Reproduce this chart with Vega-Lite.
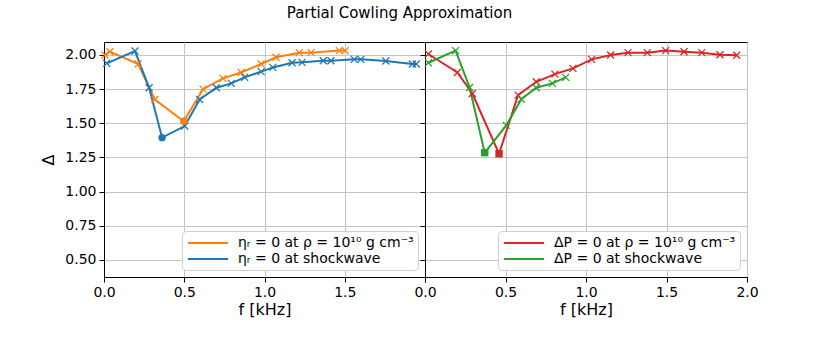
{
  "$schema": "https://vega.github.io/schema/vega-lite/v6.json",
  "padding": {"left": 40, "top": 5, "right": 5, "bottom": 5},
  "title": {"text": "Partial Cowling Approximation", "font": "DejaVu Sans", "fontSize": 15, "fontWeight": "normal", "color": "#000", "offset": 21, "anchor": "middle"},
  "config": {
    "font": "DejaVu Sans",
    "view": {"stroke": "#000", "strokeWidth": 1},
    "axis": {"labelFont": "DejaVu Sans", "labelFontSize": 14, "labelColor": "#000", "titleFont": "DejaVu Sans", "titleFontSize": 16, "titleFontWeight": "normal", "titleColor": "#000", "domainColor": "#000", "tickColor": "#000", "tickSize": 5, "gridColor": "#c4c4c4", "gridWidth": 1, "labelFlush": false, "labelPadding": 3},
    "legend": {"labelFont": "DejaVu Sans", "labelFontSize": 14, "labelColor": "#000", "labelLimit": 0}
  },
  "data": {"values": [
    {"panel": "L", "series": "ηᵣ = 0 at ρ = 10¹⁰ g cm⁻³", "f": 0.006, "delta": 2.0, "kind": "x"},
    {"panel": "L", "series": "ηᵣ = 0 at ρ = 10¹⁰ g cm⁻³", "f": 0.037, "delta": 2.024, "kind": "x"},
    {"panel": "L", "series": "ηᵣ = 0 at ρ = 10¹⁰ g cm⁻³", "f": 0.213, "delta": 1.934, "kind": "x"},
    {"panel": "L", "series": "ηᵣ = 0 at ρ = 10¹⁰ g cm⁻³", "f": 0.317, "delta": 1.674, "kind": "x"},
    {"panel": "L", "series": "ηᵣ = 0 at ρ = 10¹⁰ g cm⁻³", "f": 0.497, "delta": 1.515, "kind": "min"},
    {"panel": "L", "series": "ηᵣ = 0 at ρ = 10¹⁰ g cm⁻³", "f": 0.617, "delta": 1.75, "kind": "x"},
    {"panel": "L", "series": "ηᵣ = 0 at ρ = 10¹⁰ g cm⁻³", "f": 0.741, "delta": 1.829, "kind": "x"},
    {"panel": "L", "series": "ηᵣ = 0 at ρ = 10¹⁰ g cm⁻³", "f": 0.855, "delta": 1.872, "kind": "x"},
    {"panel": "L", "series": "ηᵣ = 0 at ρ = 10¹⁰ g cm⁻³", "f": 0.979, "delta": 1.934, "kind": "x"},
    {"panel": "L", "series": "ηᵣ = 0 at ρ = 10¹⁰ g cm⁻³", "f": 1.072, "delta": 1.983, "kind": "x"},
    {"panel": "L", "series": "ηᵣ = 0 at ρ = 10¹⁰ g cm⁻³", "f": 1.217, "delta": 2.017, "kind": "x"},
    {"panel": "L", "series": "ηᵣ = 0 at ρ = 10¹⁰ g cm⁻³", "f": 1.29, "delta": 2.017, "kind": "x"},
    {"panel": "L", "series": "ηᵣ = 0 at ρ = 10¹⁰ g cm⁻³", "f": 1.466, "delta": 2.032, "kind": "x"},
    {"panel": "L", "series": "ηᵣ = 0 at ρ = 10¹⁰ g cm⁻³", "f": 1.503, "delta": 2.032, "kind": "x"},
    {"panel": "L", "series": "ηᵣ = 0 at shockwave", "f": 0.017, "delta": 1.939, "kind": "x"},
    {"panel": "L", "series": "ηᵣ = 0 at shockwave", "f": 0.193, "delta": 2.029, "kind": "x"},
    {"panel": "L", "series": "ηᵣ = 0 at shockwave", "f": 0.281, "delta": 1.76, "kind": "x"},
    {"panel": "L", "series": "ηᵣ = 0 at shockwave", "f": 0.362, "delta": 1.395, "kind": "min"},
    {"panel": "L", "series": "ηᵣ = 0 at shockwave", "f": 0.503, "delta": 1.48, "kind": "x"},
    {"panel": "L", "series": "ηᵣ = 0 at shockwave", "f": 0.596, "delta": 1.674, "kind": "x"},
    {"panel": "L", "series": "ηᵣ = 0 at shockwave", "f": 0.7, "delta": 1.76, "kind": "x"},
    {"panel": "L", "series": "ηᵣ = 0 at shockwave", "f": 0.793, "delta": 1.792, "kind": "x"},
    {"panel": "L", "series": "ηᵣ = 0 at shockwave", "f": 0.876, "delta": 1.836, "kind": "x"},
    {"panel": "L", "series": "ηᵣ = 0 at shockwave", "f": 0.979, "delta": 1.878, "kind": "x"},
    {"panel": "L", "series": "ηᵣ = 0 at shockwave", "f": 1.052, "delta": 1.909, "kind": "x"},
    {"panel": "L", "series": "ηᵣ = 0 at shockwave", "f": 1.172, "delta": 1.943, "kind": "x"},
    {"panel": "L", "series": "ηᵣ = 0 at shockwave", "f": 1.234, "delta": 1.946, "kind": "x"},
    {"panel": "L", "series": "ηᵣ = 0 at shockwave", "f": 1.366, "delta": 1.958, "kind": "x"},
    {"panel": "L", "series": "ηᵣ = 0 at shockwave", "f": 1.414, "delta": 1.958, "kind": "x"},
    {"panel": "L", "series": "ηᵣ = 0 at shockwave", "f": 1.559, "delta": 1.968, "kind": "x"},
    {"panel": "L", "series": "ηᵣ = 0 at shockwave", "f": 1.6, "delta": 1.968, "kind": "x"},
    {"panel": "L", "series": "ηᵣ = 0 at shockwave", "f": 1.756, "delta": 1.956, "kind": "x"},
    {"panel": "L", "series": "ηᵣ = 0 at shockwave", "f": 1.921, "delta": 1.934, "kind": "x"},
    {"panel": "L", "series": "ηᵣ = 0 at shockwave", "f": 1.946, "delta": 1.934, "kind": "x"},
    {"panel": "R", "series": "ΔP = 0 at ρ = 10¹⁰ g cm⁻³", "f": 0.021, "delta": 2.007, "kind": "x"},
    {"panel": "R", "series": "ΔP = 0 at ρ = 10¹⁰ g cm⁻³", "f": 0.201, "delta": 1.872, "kind": "x"},
    {"panel": "R", "series": "ΔP = 0 at ρ = 10¹⁰ g cm⁻³", "f": 0.294, "delta": 1.718, "kind": "x"},
    {"panel": "R", "series": "ΔP = 0 at ρ = 10¹⁰ g cm⁻³", "f": 0.46, "delta": 1.277, "kind": "min"},
    {"panel": "R", "series": "ΔP = 0 at ρ = 10¹⁰ g cm⁻³", "f": 0.578, "delta": 1.706, "kind": "x"},
    {"panel": "R", "series": "ΔP = 0 at ρ = 10¹⁰ g cm⁻³", "f": 0.691, "delta": 1.804, "kind": "x"},
    {"panel": "R", "series": "ΔP = 0 at ρ = 10¹⁰ g cm⁻³", "f": 0.807, "delta": 1.86, "kind": "x"},
    {"panel": "R", "series": "ΔP = 0 at ρ = 10¹⁰ g cm⁻³", "f": 0.919, "delta": 1.902, "kind": "x"},
    {"panel": "R", "series": "ΔP = 0 at ρ = 10¹⁰ g cm⁻³", "f": 1.035, "delta": 1.968, "kind": "x"},
    {"panel": "R", "series": "ΔP = 0 at ρ = 10¹⁰ g cm⁻³", "f": 1.153, "delta": 2.0, "kind": "x"},
    {"panel": "R", "series": "ΔP = 0 at ρ = 10¹⁰ g cm⁻³", "f": 1.261, "delta": 2.017, "kind": "x"},
    {"panel": "R", "series": "ΔP = 0 at ρ = 10¹⁰ g cm⁻³", "f": 1.381, "delta": 2.017, "kind": "x"},
    {"panel": "R", "series": "ΔP = 0 at ρ = 10¹⁰ g cm⁻³", "f": 1.495, "delta": 2.032, "kind": "x"},
    {"panel": "R", "series": "ΔP = 0 at ρ = 10¹⁰ g cm⁻³", "f": 1.609, "delta": 2.024, "kind": "x"},
    {"panel": "R", "series": "ΔP = 0 at ρ = 10¹⁰ g cm⁻³", "f": 1.719, "delta": 2.017, "kind": "x"},
    {"panel": "R", "series": "ΔP = 0 at ρ = 10¹⁰ g cm⁻³", "f": 1.832, "delta": 2.002, "kind": "x"},
    {"panel": "R", "series": "ΔP = 0 at ρ = 10¹⁰ g cm⁻³", "f": 1.936, "delta": 1.998, "kind": "x"},
    {"panel": "R", "series": "ΔP = 0 at shockwave", "f": 0.021, "delta": 1.943, "kind": "x"},
    {"panel": "R", "series": "ΔP = 0 at shockwave", "f": 0.19, "delta": 2.032, "kind": "x"},
    {"panel": "R", "series": "ΔP = 0 at shockwave", "f": 0.277, "delta": 1.762, "kind": "x"},
    {"panel": "R", "series": "ΔP = 0 at shockwave", "f": 0.371, "delta": 1.285, "kind": "min"},
    {"panel": "R", "series": "ΔP = 0 at shockwave", "f": 0.505, "delta": 1.485, "kind": "x"},
    {"panel": "R", "series": "ΔP = 0 at shockwave", "f": 0.598, "delta": 1.676, "kind": "x"},
    {"panel": "R", "series": "ΔP = 0 at shockwave", "f": 0.691, "delta": 1.76, "kind": "x"},
    {"panel": "R", "series": "ΔP = 0 at shockwave", "f": 0.791, "delta": 1.792, "kind": "x"},
    {"panel": "R", "series": "ΔP = 0 at shockwave", "f": 0.874, "delta": 1.836, "kind": "x"}
  ]},
  "spacing": 0,
  "bounds": "flush",
  "resolve": {"scale": {"color": "independent", "shape": "independent"}, "legend": {"color": "independent"}},
  "hconcat": [
    {
      "width": 321, "height": 235,
      "transform": [{"filter": "datum.panel === 'L'"}],
      "encoding": {
        "x": {"field": "f", "type": "quantitative", "scale": {"domain": [0, 2], "nice": false}, "axis": {"values": [0, 0.5, 1, 1.5, 2], "labelExpr": "datum.value >= 2 ? '' : format(datum.value, '.1f')", "title": "f [kHz]", "titlePadding": 2}},
        "y": {"field": "delta", "type": "quantitative", "scale": {"domain": [0.375, 2.095], "nice": false, "zero": false}, "axis": {"values": [0.5, 0.75, 1.0, 1.25, 1.5, 1.75, 2.0], "format": ".2f", "title": "Δ", "titlePadding": 8}},
        "color": {"field": "series", "type": "nominal", "scale": {"domain": ["ηᵣ = 0 at ρ = 10¹⁰ g cm⁻³", "ηᵣ = 0 at shockwave"], "range": ["#ff7f0e", "#1f77b4"]},
          "legend": {"title": null, "orient": "bottom-right", "offset": 7, "symbolType": "M-3,0L3,0", "symbolSize": 180, "symbolStrokeWidth": 2, "symbolOffset": 14, "fillColor": "#ffffff", "strokeColor": "#d0d0d0", "cornerRadius": 4, "padding": 4, "rowPadding": 1, "labelOffset": 22}}
      },
      "layer": [
        {"mark": {"type": "line", "strokeWidth": 2}},
        {"transform": [{"filter": "datum.kind === 'x'"}], "mark": {"type": "point", "shape": "M-1,-1L1,1M-1,1L1,-1", "filled": false, "size": 49, "strokeWidth": 1.3, "opacity": 1}},
        {"transform": [{"filter": "datum.kind === 'min'"}], "mark": {"type": "point", "shape": "circle", "filled": true, "size": 55, "opacity": 1}}
      ]
    },
    {
      "width": 322, "height": 235,
      "transform": [{"filter": "datum.panel === 'R'"}],
      "encoding": {
        "x": {"field": "f", "type": "quantitative", "scale": {"domain": [0, 2], "nice": false}, "axis": {"values": [0, 0.5, 1, 1.5, 2], "format": ".1f", "title": "f [kHz]", "titlePadding": 2}},
        "y": {"field": "delta", "type": "quantitative", "scale": {"domain": [0.375, 2.095], "nice": false, "zero": false}, "axis": {"values": [0.5, 0.75, 1.0, 1.25, 1.5, 1.75, 2.0], "labels": false, "title": null}},
        "color": {"field": "series", "type": "nominal", "scale": {"domain": ["ΔP = 0 at ρ = 10¹⁰ g cm⁻³", "ΔP = 0 at shockwave"], "range": ["#d62728", "#2ca02c"]},
          "legend": {"title": null, "orient": "bottom-right", "offset": 7, "symbolType": "M-3,0L3,0", "symbolSize": 180, "symbolStrokeWidth": 2, "symbolOffset": 14, "fillColor": "#ffffff", "strokeColor": "#d0d0d0", "cornerRadius": 4, "padding": 4, "rowPadding": 1, "labelOffset": 22}}
      },
      "layer": [
        {"mark": {"type": "line", "strokeWidth": 2}},
        {"transform": [{"filter": "datum.kind === 'x'"}], "mark": {"type": "point", "shape": "M-1,-1L1,1M-1,1L1,-1", "filled": false, "size": 49, "strokeWidth": 1.3, "opacity": 1}},
        {"transform": [{"filter": "datum.kind === 'min'"}], "mark": {"type": "point", "shape": "square", "filled": true, "size": 55, "opacity": 1}}
      ]
    }
  ]
}
